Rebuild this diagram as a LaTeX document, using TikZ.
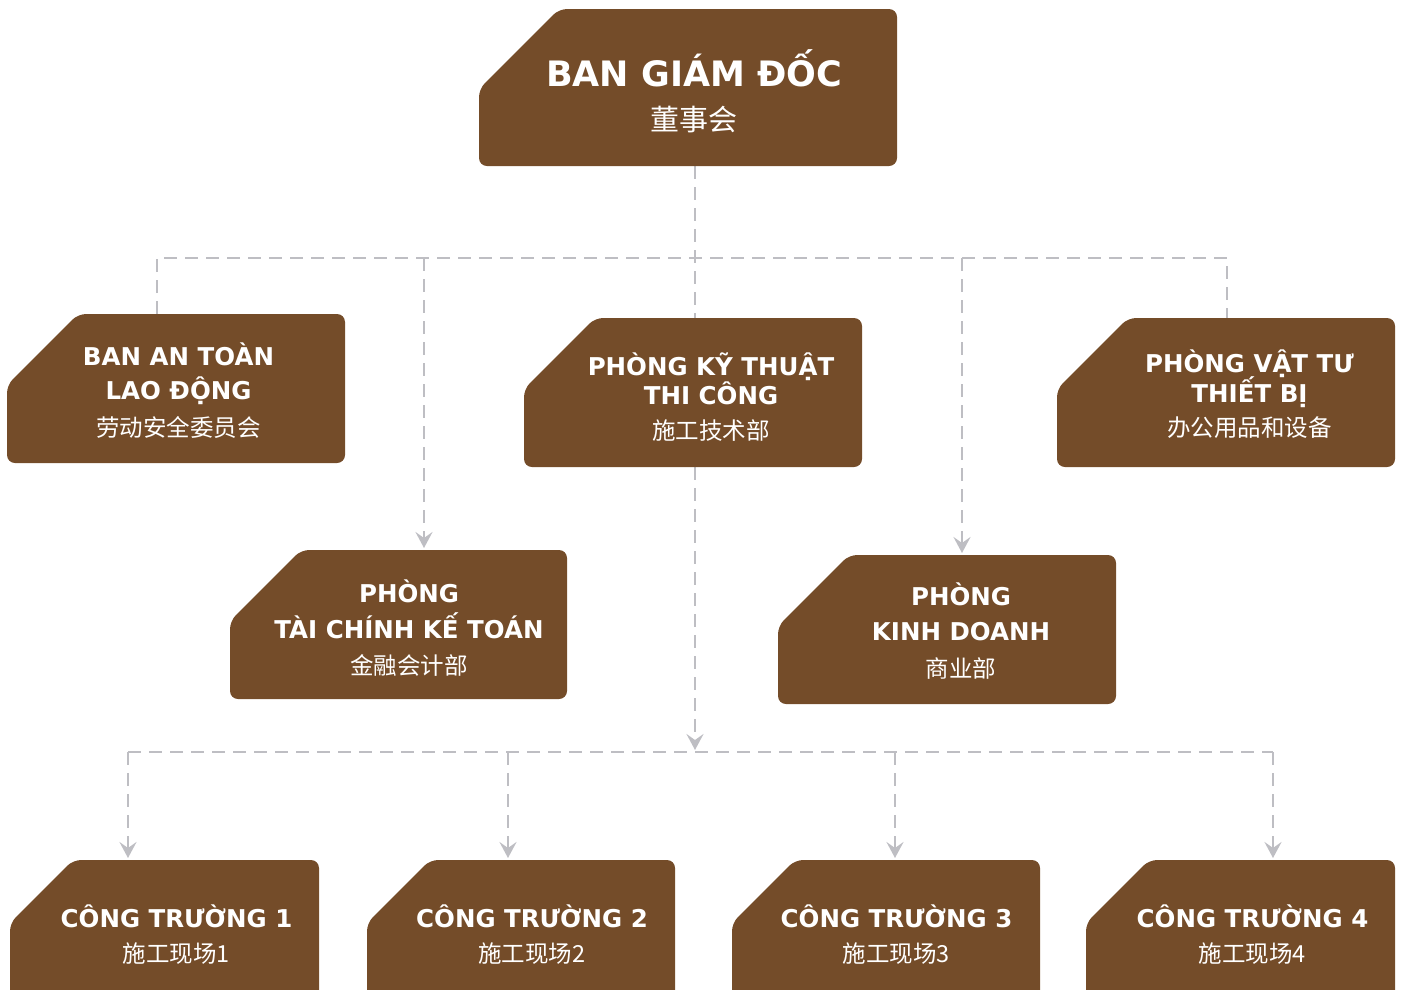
\documentclass[tikz,border=0pt]{standalone}
\usepackage{fontspec}
\setmainfont{DejaVu Sans}
\newfontfamily\cjk{Noto Sans CJK SC}
\usetikzlibrary{arrows.meta}
\definecolor{nau}{HTML}{744C29}
\definecolor{xam}{HTML}{BEBEC3}
\tikzset{
  hop/.style={fill=nau,rounded corners=8pt},
  net/.style={draw=xam,line width=2.5pt,dash pattern=on 13pt off 8pt},
  mui/.style={-{Stealth[length=16pt,width=17pt,inset=6pt]}},
  chu/.style={text=white,anchor=base,inner sep=0pt,align=center,font=\bfseries\fontsize{24.5}{35}\selectfont},
  hoa/.style={text=white,anchor=base,inner sep=0pt,font=\cjk\fontsize{23.5}{30}\selectfont}
}
% x1, y1, x2, y2, chamfer
\newcommand{\hopvat}[5]{\fill[hop] (#1+#5,#2) -- (#3,#2) -- (#3,#4) -- (#1,#4) -- (#1,#2+#5) -- cycle;}

\begin{document}
\begin{tikzpicture}[x=1pt,y=-1pt]
\useasboundingbox (0,0) rectangle (1403,989);
\clip (0,0) rectangle (1403,989);

% diem noi
\coordinate (gd-s) at (695,166);
\coordinate (bus-l) at (157,258);
\coordinate (bus-r) at (1227,258);
\coordinate (at-n) at (157,314);
\coordinate (kt-n) at (695,318);
\coordinate (vt-n) at (1227,318);
\coordinate (tc-b) at (424,258);
\coordinate (tc-n) at (424,548);
\coordinate (kd-b) at (962,258);
\coordinate (kd-n) at (962,553);
\coordinate (kt-s) at (695,467);
\coordinate (ct-c) at (695,750);
\coordinate (ct-l) at (128,752);
\coordinate (ct-r) at (1273,752);
\coordinate (ct1-n) at (128,858);
\coordinate (ct2-b) at (508,752);
\coordinate (ct2-n) at (508,858);
\coordinate (ct3-b) at (895,752);
\coordinate (ct3-n) at (895,858);
\coordinate (ct4-n) at (1273,858);

% duong noi
\draw[net] (at-n) -- (bus-l) -- (bus-r) -- (vt-n);
\draw[net] (gd-s) -- (kt-n);
\draw[net,mui] (tc-b) -- (tc-n);
\draw[net,mui] (kd-b) -- (kd-n);
\draw[net,mui] (kt-s) -- (ct-c);
\draw[net,mui] (ct-l) -- (ct1-n);
\draw[net] (ct-l) -- (ct-r);
\draw[net,mui] (ct2-b) -- (ct2-n);
\draw[net,mui] (ct3-b) -- (ct3-n);
\draw[net,mui] (ct-r) -- (ct4-n);

% cac hop
\hopvat{479}{9}{897}{166}{80}
\hopvat{7}{314}{345}{463}{71}
\hopvat{524}{318}{862}{467}{71}
\hopvat{1057}{318}{1395}{467}{71}
\hopvat{230}{550}{567}{699}{71}
\hopvat{778}{555}{1116}{704}{71}
\hopvat{10}{860}{319}{1000}{63}
\hopvat{367}{860}{675}{1000}{63}
\hopvat{732}{860}{1040}{1000}{63}
\hopvat{1086}{860}{1395}{1000}{63}

% chu (anchor base = dong cuoi)
\node[chu,font=\bfseries\fontsize{35}{40}\selectfont] (gd) at (694,86) {BAN GIÁM ĐỐC};
\node[hoa,font=\cjk\fontsize{29}{35}\selectfont] (gd-cn) at (694,130) {董事会};
\node[chu] (at) at (178.5,399) {BAN AN TOÀN\\[-1pt]LAO ĐỘNG};
\node[hoa] (at-cn) at (178.5,436) {劳动安全委员会};
\node[chu] (kt) at (711,404) {PHÒNG KỸ THUẬT\\[-6pt]THI CÔNG};
\node[hoa] (kt-cn) at (711,439) {施工技术部};
\node[chu] (vt) at (1249.5,402) {PHÒNG VẬT TƯ\\[-5pt]THIẾT BỊ};
\node[hoa] (vt-cn) at (1249.5,436) {办公用品和设备};
\node[chu] (tc) at (409,638) {PHÒNG\\[1pt]TÀI CHÍNH KẾ TOÁN};
\node[hoa] (tc-cn) at (409,674) {金融会计部};
\node[chu] (kd) at (961,640) {PHÒNG\\KINH DOANH};
\node[hoa] (kd-cn) at (961,677) {商业部};
\node[chu] (ct1) at (176.5,927) {CÔNG TRƯỜNG 1};
\node[hoa] (ct1-cn) at (176.5,962) {施工现场1};
\node[chu] (ct2) at (532,927) {CÔNG TRƯỜNG 2};
\node[hoa] (ct2-cn) at (532,962) {施工现场2};
\node[chu] (ct3) at (896.5,927) {CÔNG TRƯỜNG 3};
\node[hoa] (ct3-cn) at (896.5,962) {施工现场3};
\node[chu] (ct4) at (1252.5,927) {CÔNG TRƯỜNG 4};
\node[hoa] (ct4-cn) at (1252.5,962) {施工现场4};
\end{tikzpicture}
\end{document}
